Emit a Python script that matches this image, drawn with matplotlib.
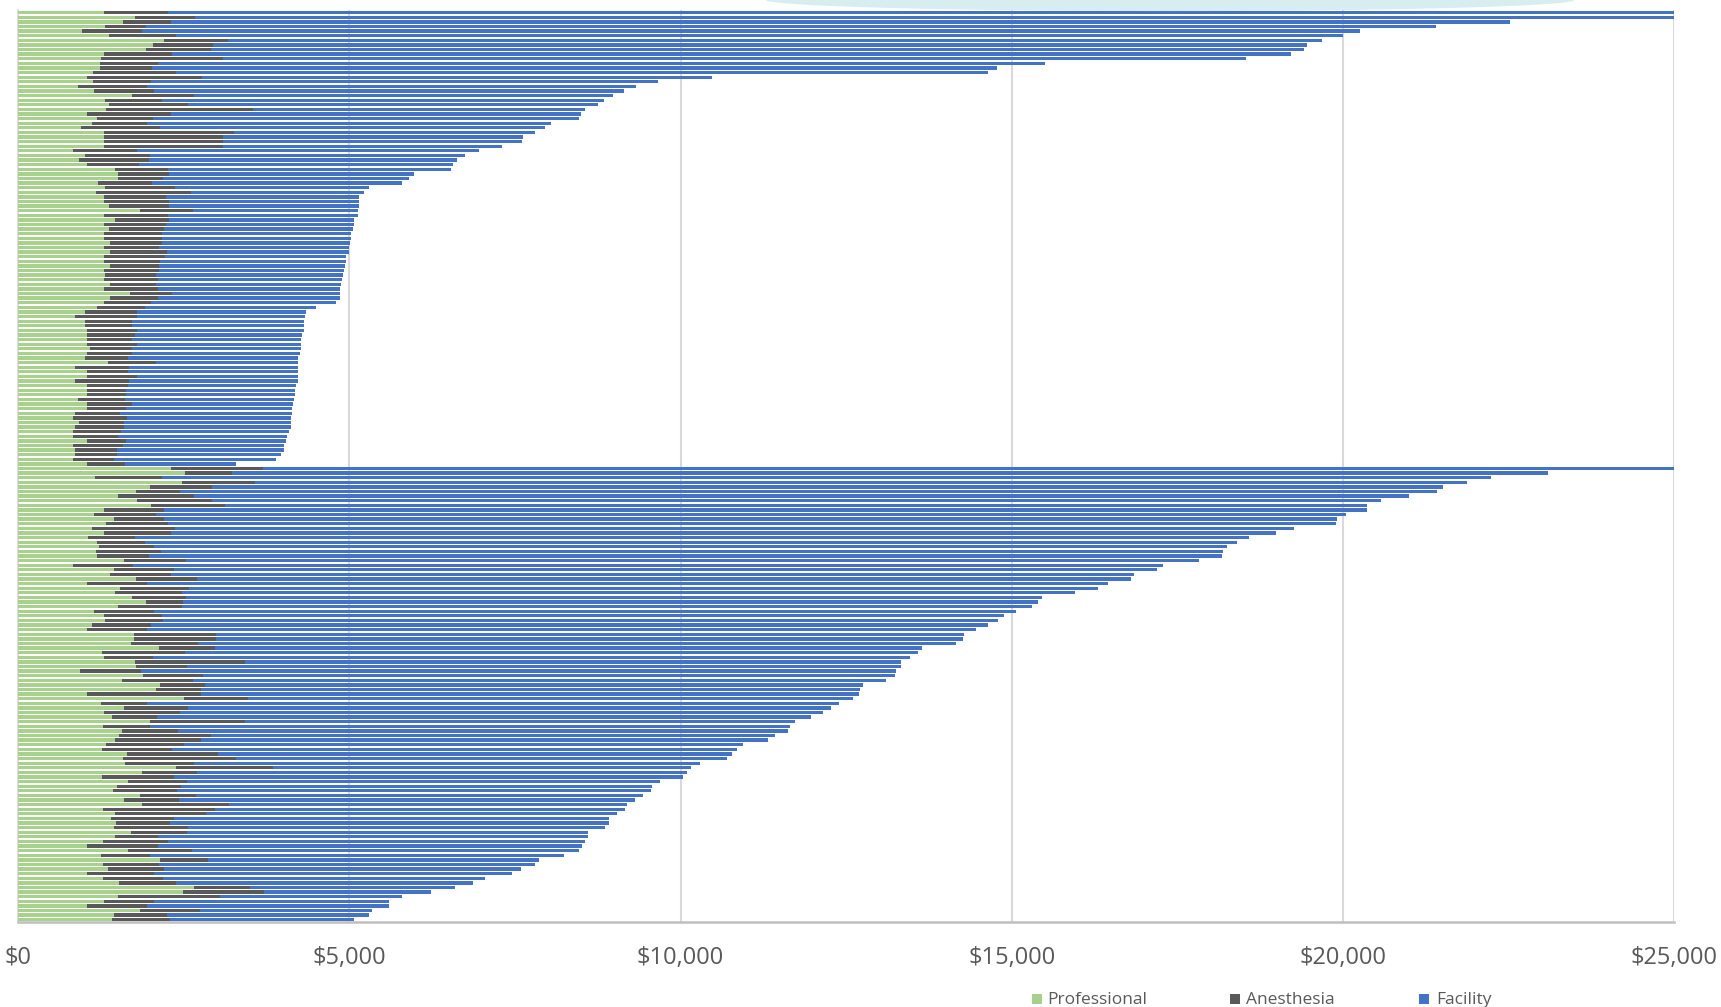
import numpy as np
import matplotlib
matplotlib.use("Agg")
import matplotlib.pyplot as plt
from matplotlib.patches import Rectangle, Ellipse

# ---------------- data (top to bottom) ----------------
series_names = ["Professional", "Anesthesia", "Facility"]
series_colors = ["#A9D18E", "#595959", "#4472C4"]
tick_values = [0, 5000, 10000, 15000, 20000, 25000]
tick_labels = ["$0", "$5,000", "$10,000", "$15,000", "$20,000", "$25,000"]

professional = [
    1293, 1761, 1575, 1313, 961, 1374, 2199, 2028, 1927, 1293,
    1253, 1233, 1233, 1132, 1032, 1132, 901, 1142, 1711, 1303,
    1374, 1323, 1032, 1193, 1112, 946, 1293, 1293, 1293, 1293,
    825, 1011, 911, 1032, 1459, 1510, 1510, 1208, 1303, 1172,
    1293, 1293, 1364, 1837, 1293, 1459, 1293, 1364, 1293, 1293,
    1384, 1293, 1384, 1293, 1293, 1384, 1293, 1303, 1293, 1384,
    1293, 1686, 1384, 1293, 1183, 1011, 860, 1001, 1001, 1037,
    1037, 1037, 1037, 1087, 1037, 1011, 1354, 860, 1037, 1037,
    860, 1037, 1037, 1037, 901, 1037, 1037, 860, 825, 911,
    860, 825, 825, 1037, 825, 860, 860, 825, 1037,
    2300, 2516, 1157, 2471, 1993, 1781, 1500, 1796, 2003, 1293,
    1147, 1439, 1328, 1112, 1293, 1047, 1183, 1218, 1172, 1193,
    1590, 825, 1439, 1379, 1771, 1037, 1535, 1464, 1711, 1922,
    1510, 1137, 1293, 1313, 1112, 1037, 1746, 1746, 1701, 2118,
    1268, 1293, 1756, 1776, 936, 1882, 1565, 2139, 2078, 1037,
    2506, 1243, 1595, 1293, 1414, 1983, 1278, 1565, 1515, 1464,
    1318, 1258, 1640, 1580, 1610, 2375, 1867, 1268, 1661, 1489,
    1429, 1832, 1600, 1867, 1278, 1464, 1394, 1474, 1449, 1701,
    1464, 1278, 1037, 1650, 1243, 2139, 1278, 1354, 1037, 1278,
    1515, 2652, 2486, 1500, 1293, 1037, 1832, 1449, 1414,
]

anesthesia = [
    971, 906, 725, 614, 906, 1001, 971, 906, 976, 1022,
    1832, 870, 785, 1248, 1736, 871, 1041, 911, 941, 871,
    1182, 2214, 1268, 835, 830, 1193, 1963, 1802, 1802, 1802,
    966, 977, 1057, 790, 800, 769, 679, 810, 1057, 1435,
    931, 981, 910, 805, 966, 820, 936, 835, 876, 876,
    780, 836, 855, 921, 846, 745, 836, 775, 820, 694,
    810, 639, 719, 705, 724, 785, 926, 715, 715, 749,
    724, 679, 754, 629, 679, 645, 724, 816, 624, 749,
    811, 624, 588, 588, 714, 679, 588, 675, 810, 679,
    730, 725, 675, 588, 755, 629, 629, 614, 573,
    1388, 715, 1017, 1102, 931, 654, 1152, 1128, 1117, 901,
    931, 765, 936, 1248, 1017, 714, 724, 825, 982, 780,
    941, 906, 910, 931, 931, 905, 1046, 1007, 820, 564,
    961, 906, 881, 876, 891, 905, 1238, 1238, 1006, 846,
    1253, 740, 1661, 770, 911, 906, 1067, 674, 680, 1721,
    961, 699, 971, 1153, 679, 1439, 705, 840, 1399, 1294,
    1178, 1062, 1369, 1701, 1042, 1469, 835, 1081, 885, 972,
    966, 845, 825, 1313, 1686, 1374, 955, 811, 1112, 845,
    639, 986, 1066, 972, 750, 724, 851, 845, 1006, 911,
    860, 845, 1223, 1539, 760, 905, 910, 800, 871,
]

facility = [
    23536, 22933, 20224, 19480, 18393, 17634, 16514, 16521, 16507, 16901,
    15458, 13403, 12761, 12260, 7705, 7659, 7388, 7090, 6331, 6664,
    6204, 5023, 6200, 6432, 6108, 5811, 4544, 4525, 4505, 4205,
    5159, 4762, 4652, 4738, 4281, 3690, 3709, 3770, 2935, 2607,
    2924, 2874, 2864, 2491, 2864, 2794, 2834, 2849, 2849, 2849,
    2849, 2868, 2758, 2733, 2808, 2798, 2783, 2823, 2773, 2788,
    2748, 2526, 2748, 2805, 2587, 2547, 2537, 2596, 2596, 2526,
    2521, 2556, 2481, 2546, 2536, 2571, 2149, 2551, 2566, 2441,
    2556, 2526, 2552, 2552, 2546, 2435, 2506, 2596, 2481, 2526,
    2526, 2536, 2551, 2416, 2436, 2522, 2476, 2451, 1671,
    21712, 19871, 20064, 18300, 18588, 18982, 18342, 17656, 17249, 18175,
    17962, 17715, 17628, 16907, 16687, 16818, 16502, 16208, 16033, 16198,
    15302, 15555, 14842, 14540, 14098, 14508, 13719, 13479, 12919, 12914,
    12829, 13024, 12706, 12609, 12646, 12512, 11295, 11283, 11452, 10688,
    11070, 11426, 9905, 10776, 11399, 10446, 10471, 9945, 9949, 9937,
    9134, 10447, 9709, 9710, 9876, 8302, 9667, 9220, 8510, 8566,
    8440, 8529, 7770, 7424, 7638, 6306, 7389, 7684, 7140, 7115,
    7164, 6754, 6885, 6004, 6197, 6201, 6563, 6627, 6294, 6049,
    6492, 6296, 6416, 5850, 6248, 4998, 5679, 5384, 5418, 4863,
    4491, 3093, 2515, 2748, 3548, 3659, 2600, 3046, 2785,
]

categories = [f"Case {k + 1}" for k in range(len(professional))]

# ---------------- figure ----------------
W, H = 1721, 1007
fig = plt.figure(figsize=(W / 100, H / 100), dpi=100)
fig.patch.set_facecolor("white")

# faint glow at the very top of the image
fig.patches.append(Ellipse((0.68, 1.0), 0.47, 0.022, transform=fig.transFigure,
                           facecolor="#d3ecee", edgecolor="none", alpha=0.9, zorder=0))

left_px, right_px, top_px, bottom_px = 18.3, 1674.0, 10.4, 922.0
ax = fig.add_axes([left_px / W, 1 - bottom_px / H,
                   (right_px - left_px) / W, (bottom_px - top_px) / H])
ax.set_facecolor("none")

y = np.arange(len(categories))
prof = np.array(professional)
anes = np.array(anesthesia)
fac = np.array(facility)
bh = 0.72
ax.barh(y, prof, height=bh, color=series_colors[0], edgecolor="none", zorder=3)
ax.barh(y, anes, left=prof, height=bh, color=series_colors[1], edgecolor="none", zorder=3)
ax.barh(y, fac, left=prof + anes, height=bh, color=series_colors[2], edgecolor="none", zorder=3)

ax.set_xlim(0, 25000)
ax.set_ylim(len(categories) - 0.5, -0.5)
ax.set_yticks([])
ax.set_xticks(tick_values)
ax.set_xticklabels(tick_labels)
for lab in ax.get_xticklabels():
    lab.set_fontfamily("Open Sans")
    lab.set_fontsize(17)
    lab.set_color("#595959")
ax.tick_params(axis="x", length=0, pad=17)

ax.grid(axis="x", color="#D9D9D9", linewidth=1.5, zorder=0)
ax.set_axisbelow(True)
for s in ["top", "right"]:
    ax.spines[s].set_visible(False)
ax.spines["left"].set_color("#D9D9D9")
ax.spines["left"].set_linewidth(1.2)
ax.spines["bottom"].set_color("#BFBFBF")
ax.spines["bottom"].set_linewidth(1.8)

# ---------------- legend ----------------
legend_marker_x = [1032, 1230, 1419]
legend_text_x = [1047, 1246, 1436]
for name, col, mx, tx in zip(series_names, series_colors, legend_marker_x, legend_text_x):
    fig.patches.append(Rectangle((mx / W, 1 - 1004 / H), 10 / W, 10 / H,
                                 transform=fig.transFigure, facecolor=col,
                                 edgecolor="none"))
    fig.text(tx / W, 1 - 1004 / H, name, fontsize=12.5, family="Open Sans",
             color="#595959", ha="left", va="baseline")

fig.savefig("out.png", dpi=100, facecolor="white")
